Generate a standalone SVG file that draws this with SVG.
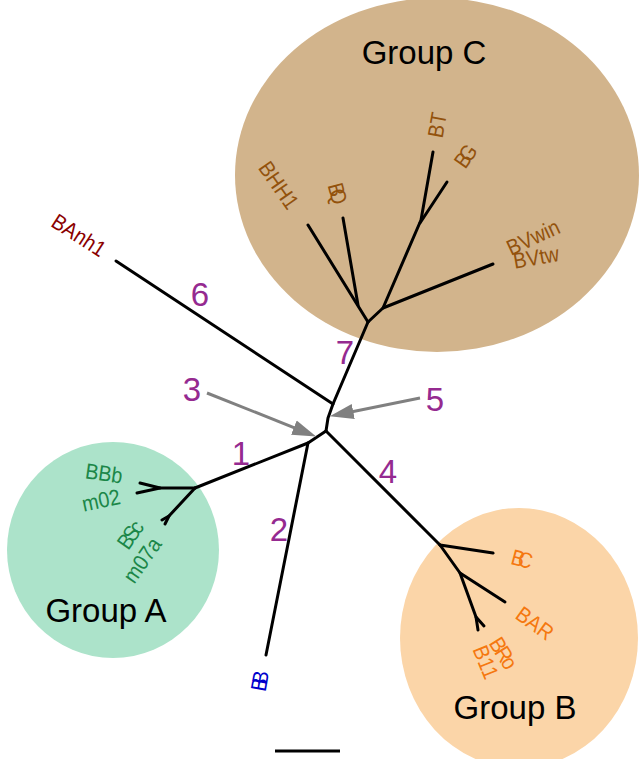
<svg xmlns="http://www.w3.org/2000/svg" width="639" height="759" viewBox="0 0 639 759">
<style>
.branch{fill:none;stroke:#000;stroke-width:3;stroke-linecap:round;stroke-linejoin:round}
.arrow{stroke:#808080;stroke-width:3;fill:none}
.tip{font-family:"Liberation Sans",Arial,sans-serif;font-size:22px;text-anchor:middle;dominant-baseline:central}
.grp{font-family:"Liberation Sans",Arial,sans-serif;font-size:33px;text-anchor:middle;fill:#000}
.num{font-family:"Liberation Sans",Arial,sans-serif;font-size:33px;text-anchor:middle;fill:#952A90}
.cC{fill:#93520C}
.cA{fill:#1B8748}
.cB{fill:#F5780F}
</style>
<defs>
<marker id="ah" markerUnits="userSpaceOnUse" markerWidth="24" markerHeight="16" viewBox="0 0 22 14" refX="8" refY="7" orient="auto">
<path d="M0,0 L22,7 L0,14 z" fill="#808080"/>
</marker>
</defs>
<rect width="639" height="759" fill="#fff"/>
<g id="groupC">
<ellipse cx="437" cy="175" rx="202" ry="177" fill="#D2B48C"/>
<text class="grp" x="424" y="64">Group C</text>
</g>
<g id="groupA">
<ellipse cx="113" cy="550" rx="106" ry="108" fill="#ACE3CA"/>
<text class="grp" x="106" y="622">Group A</text>
</g>
<g id="groupB">
<ellipse cx="519" cy="638" rx="119" ry="130" fill="#FBD5A8"/>
<text class="grp" x="515" y="719">Group B</text>
</g>
<g id="connectors">
<polyline class="branch" points="116,261 333,404"/>
<polyline class="branch" points="368,322 333,404 328,418 326,431"/>
<polyline class="branch" points="326,431 308,443 195,488"/>
<polyline class="branch" points="308,443 266,655"/>
<polyline class="branch" points="326,431 440,545"/>
<polyline class="branch" points="308,225 368,322"/>
<polyline class="branch" points="343,218 358,305"/>
<polyline class="branch" points="368,322 383,308 493,264"/>
<polyline class="branch" points="383,308 421,220 433,152"/>
<polyline class="branch" points="420,223 447,182"/>
<polyline class="branch" points="195,488 160,488 140,483"/>
<polyline class="branch" points="160,488 137,493"/>
<polyline class="branch" points="195,488 169,516 162,520"/>
<polyline class="branch" points="169,516 165,524"/>
<polyline class="branch" points="440,545 493,553"/>
<polyline class="branch" points="440,545 460,573 505,602"/>
<polyline class="branch" points="460,573 476,617 478,630"/>
<polyline class="branch" points="476,617 484,626"/>
<line class="arrow" x1="207" y1="393" x2="302" y2="430.8" marker-end="url(#ah)"/>
<line class="arrow" x1="420" y1="398" x2="344.7" y2="413.2" marker-end="url(#ah)"/>
<line x1="275" y1="751" x2="340" y2="751" stroke="#000" stroke-width="3"/>
</g>
<g id="tips">
<text class="tip cC" transform="translate(437,125) rotate(-80) scale(0.9,1)">BT</text>
<text class="tip cC" transform="translate(464,158) rotate(-55) scale(0.9,1)" letter-spacing="-6">BG</text>
<text class="tip cC" transform="translate(337,190) rotate(75) scale(0.9,1)" letter-spacing="-8">BQ</text>
<text class="tip cC" transform="translate(279,185) rotate(55) scale(0.9,1)">BHH1</text>
<text class="tip cC" transform="translate(533,237) rotate(-25) scale(0.9,1)">BVwin</text>
<text class="tip cC" transform="translate(536,257) rotate(-10) scale(0.9,1)">BVtw</text>
<text class="tip cA" transform="translate(104,473) rotate(8) scale(0.9,1)">BBb</text>
<text class="tip cA" transform="translate(101,500) rotate(-12) scale(0.9,1)">m02</text>
<text class="tip cA" transform="translate(129,536) rotate(-55) scale(0.9,1)" letter-spacing="-4">BSc</text>
<text class="tip cA" transform="translate(142,560) rotate(-55) scale(0.9,1)">m07a</text>
<text class="tip cB" transform="translate(519,558) rotate(15) scale(0.9,1)" letter-spacing="-7">BC</text>
<text class="tip cB" transform="translate(535,623) rotate(36) scale(0.9,1)">BAR</text>
<text class="tip cB" transform="translate(503,652) rotate(58) scale(0.9,1)" letter-spacing="-3">BRo</text>
<text class="tip cB" transform="translate(486,662) rotate(68) scale(0.9,1)">B11</text>
<text class="tip" fill="#8B0000" transform="translate(79,235) rotate(33) scale(0.9,1)">BAnh1</text>
<text class="tip" fill="#0000CC" font-size="24" transform="translate(259,684) rotate(-80) scale(0.9,1)" letter-spacing="-7">BB</text>
</g>
<g id="numbers">
<text class="num" x="200" y="306">6</text>
<text class="num" x="345" y="364">7</text>
<text class="num" x="192" y="401">3</text>
<text class="num" x="435" y="411">5</text>
<text class="num" x="241" y="465">1</text>
<text class="num" x="388" y="483">4</text>
<text class="num" x="279" y="541">2</text>
</g>
</svg>
